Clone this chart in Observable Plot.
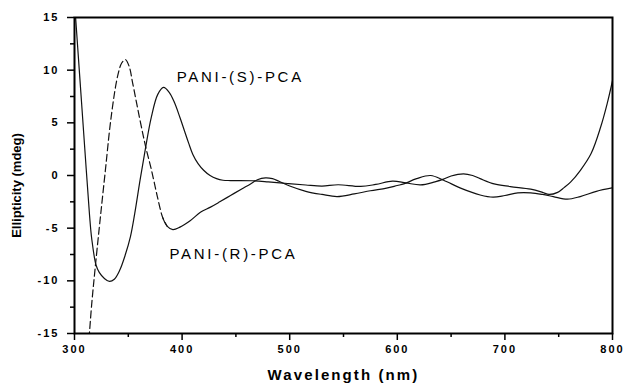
<!DOCTYPE html>
<html>
<head>
<meta charset="utf-8">
<script src="https://cdn.jsdelivr.net/npm/d3@7"></script>
<script src="https://cdn.jsdelivr.net/npm/@observablehq/plot@0.6"></script>
<style>
  html, body { margin: 0; padding: 0; background: #fff; }
  svg { font-family: "Liberation Sans", Arial, Helvetica, sans-serif; }
  svg text { letter-spacing: 2px; }
</style>
</head>
<body>
<div id="chart"></div>
<script>
// PANI-(S)-PCA (solid)
const wavelengthS = [300,305,310,314,316,320,323,328,332.5,337,342,347,352,356,361,366,371.3,377.4,382.7,388,393,398,402,406,410,415,420,426,432,438,445,466,480,498,515,530,545,566,580,595.5,608,621.6,635,643,650,661.5,670,677,690,705,724,735,741,749,755,761,770,780,789,795,800];
const ellipticityS = [16.5,9.2,1.9,-3.8,-6.0,-8.5,-9.2,-9.8,-10.06,-9.85,-9.0,-7.6,-5.8,-3.6,-0.4,2.6,5.5,7.7,8.36,7.9,6.9,5.5,4.3,3.1,2.0,1.1,0.5,0.0,-0.3,-0.45,-0.48,-0.5,-0.6,-0.76,-0.9,-1.0,-0.88,-1.04,-0.85,-0.54,-0.7,-0.89,-0.6,-0.35,-0.05,0.16,0.0,-0.3,-0.8,-1.05,-1.3,-1.6,-1.8,-1.6,-1.15,-0.63,0.47,2.06,4.6,6.8,9.0];

// PANI-(R)-PCA (dashed at short wavelengths)
const wavelengthR = [313.5,316,319,323.5,328.6,334,340,344,347.4,351,354,360.4,366,371.8,377,382,386,391.4,398,407.8,417,426.4,435,445,455,463.6,470,477.5,484,490,500,515,530,544,560,575,590,600,606,618,631,643,660,677,689,700,712,724,735,745,758,770,785,800];
const ellipticityR = [-15.5,-12.2,-9.0,-4.5,0.4,5.5,9.4,10.7,11.0,10.3,8.8,5.5,2.8,0.4,-2.0,-4.0,-4.8,-5.13,-4.9,-4.27,-3.5,-3.0,-2.5,-1.9,-1.3,-0.8,-0.4,-0.22,-0.3,-0.55,-1.0,-1.5,-1.8,-2.0,-1.75,-1.45,-1.2,-0.95,-0.8,-0.3,0.0,-0.45,-1.25,-1.85,-2.06,-1.9,-1.65,-1.65,-1.8,-2.0,-2.25,-2.0,-1.5,-1.17];
const dashEnd = 386;   // R curve drawn dashed up to this wavelength
const solidStart = 382;

// ticks
const xMajor = [300,400,500,600,700,800];
const xMinor = [350,450,550,650,750];
const yMajor = [-15,-10,-5,0,5,10,15];
const yMinor = [-12.5,-7.5,-2.5,2.5,7.5,12.5];

// curve labels
const labelText = ["PANI-(S)-PCA","PANI-(R)-PCA"];
const labelX = [395, 388.3];
const labelY = [9.35, -7.45];

const xTitle = "Wavelength (nm)";
const yTitle = "Ellipticity (mdeg)";

const S = wavelengthS.map((w,i) => ({w, v: ellipticityS[i]}));
const R = wavelengthR.map((w,i) => ({w, v: ellipticityR[i]}));
const Rdash = R.filter(d => d.w <= dashEnd);
const Rsolid = R.filter(d => d.w >= solidStart);
const labels = labelText.map((t,i) => ({t, x: labelX[i], y: labelY[i]}));

const chart = Plot.plot({
  width: 624,
  height: 383,
  marginLeft: 74,
  marginRight: 12,
  marginTop: 17,
  marginBottom: 50,
  style: {background: "#fff", color: "#000", overflow: "visible"},
  x: {domain: [300, 800], axis: null},
  y: {domain: [-15, 15], axis: null},
  marks: [
    Plot.line(S, {x: "w", y: "v", curve: "catmull-rom", stroke: "#111", strokeWidth: 1.2, clip: true}),
    Plot.line(Rdash, {x: "w", y: "v", curve: "catmull-rom", stroke: "#111", strokeWidth: 1.2, strokeDasharray: "7,3.5", clip: true}),
    Plot.line(Rsolid, {x: "w", y: "v", curve: "catmull-rom", stroke: "#111", strokeWidth: 1.2, clip: true}),
    Plot.frame({stroke: "#000", strokeWidth: 2}),
    Plot.axisX(xMajor, {tickSize: 7, tickPadding: 5, strokeWidth: 1.5, fontSize: 11, fontWeight: "bold", label: null, tickFormat: d => String(d)}),
    Plot.axisX(xMinor, {tickSize: 4, strokeWidth: 1.5, label: null, tickFormat: () => ""}),
    Plot.axisY(yMajor, {tickSize: 7, tickPadding: 8, strokeWidth: 1.5, fontSize: 11, fontWeight: "bold", label: null, tickFormat: d => String(d)}),
    Plot.axisY(yMinor, {tickSize: 4, strokeWidth: 1.5, label: null, tickFormat: () => ""}),
    Plot.text(labels, {x: "x", y: "y", text: "t", textAnchor: "start", fontSize: 15, fill: "#000"}),
    Plot.text([xTitle], {frameAnchor: "bottom", textAnchor: "middle", lineAnchor: "bottom", dy: 46, fontSize: 15, fontWeight: "bold", fill: "#000"}),
    Plot.text([yTitle], {frameAnchor: "left", textAnchor: "middle", lineAnchor: "middle", rotate: -90, dx: -58, dy: 10, fontSize: 13, fontWeight: "bold", fill: "#000"})
  ]
});
document.getElementById("chart").appendChild(chart);

// letter spacing, as in the original typesetting
d3.select(chart).selectAll("text").each(function() {
  const s = this.textContent.trim();
  if (labelText.includes(s)) this.style.letterSpacing = "2.7px";
  else if (s === xTitle) this.style.letterSpacing = "2.1px";
  else if (s === yTitle) this.style.letterSpacing = "0px";
  else if (/^-?\d+$/.test(s)) this.style.letterSpacing = "2px";
});
</script>
</body>
</html>
